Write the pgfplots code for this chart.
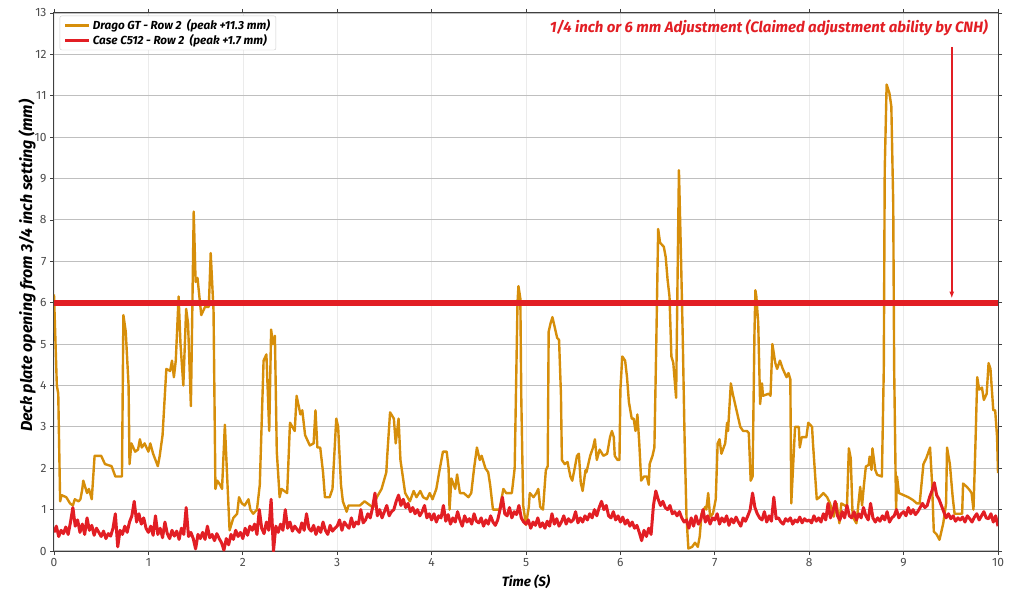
\documentclass[border=0pt]{standalone}
\usepackage{fontspec}
\setmainfont{Fira Sans}
\usepackage{pgfplots}
\pgfplotsset{compat=1.18}
\usetikzlibrary{arrows.meta}
\definecolor{drago}{RGB}{214,142,10}
\definecolor{casered}{RGB}{226,30,36}
\begin{document}
\begin{tikzpicture}
\useasboundingbox (-54pt,-51pt) rectangle (970pt,551pt);
\begin{axis}[
  scale only axis, width=944pt, height=538pt,
  xmin=0, xmax=10, ymin=0, ymax=13,
  xtick={0,1,...,10}, ytick={0,1,...,13},
  tick align=outside, major tick length=4pt,
  tick style={color=black!75, line width=0.8pt},
  axis line style={black!75, line width=1pt},
  /pgf/number format/assume math mode=true,
  ticklabel style={font=\fontsize{12}{14}\selectfont, text=black!70},
  xmajorgrids, ymajorgrids,
  x grid style={black!8, line width=0.6pt},
  y grid style={black!25, line width=1.1pt},
  xlabel={Time (S)},
  ylabel={Deck plate opening from 3/4 inch setting (mm)},
  every axis x label/.style={at={(axis description cs:0.5,0)}, yshift=-31pt, anchor=center,
    font=\fontsize{13.5}{16}\selectfont\bfseries\itshape, text=black},
  every axis y label/.style={at={(axis description cs:0,0.53)}, xshift=-27pt, rotate=90, anchor=center,
    font=\fontsize{16}{18}\selectfont\bfseries\itshape, text=black},
  legend style={at={(axis description cs:0.006,0.995)}, anchor=north west,
    draw=black!20, rounded corners=2pt, fill=white,
    font=\fontsize{11.7}{14}\selectfont\bfseries\itshape, row sep=-1pt,
    inner xsep=4pt, inner ysep=2pt},
  legend cell align=left,
  legend image code/.code={\draw[#1] (0pt,0pt) -- (24pt,0pt);},
]
\addplot[drago, line width=2.4pt, line join=round] coordinates {
(0.000,6.2) (0.030,4.0) (0.045,3.8) (0.065,1.2) (0.080,1.35) (0.130,1.3) (0.170,1.15) (0.200,1.1)
(0.220,1.25) (0.260,1.2) (0.280,1.25) (0.300,1.5) (0.310,1.7) (0.350,1.4) (0.370,1.5) (0.400,1.25)
(0.430,2.3) (0.500,2.3) (0.540,2.1) (0.610,2.05) (0.650,1.8) (0.720,1.8) (0.735,5.7) (0.760,5.3)
(0.790,4.0) (0.800,2.1) (0.820,2.6) (0.860,2.4) (0.890,2.45) (0.910,2.7) (0.930,2.5) (0.960,2.6)
(1.000,2.4) (1.020,2.6) (1.050,2.35) (1.100,2.05) (1.120,2.3) (1.150,2.8) (1.190,4.4) (1.230,4.35)
(1.250,4.6) (1.270,4.2) (1.290,4.6) (1.320,6.15) (1.340,5.0) (1.370,4.0) (1.400,5.85) (1.420,5.5)
(1.450,3.5) (1.460,5.0) (1.480,8.2) (1.500,6.5) (1.520,6.6) (1.560,5.7) (1.600,5.9) (1.640,5.9)
(1.660,7.2) (1.690,5.8) (1.710,1.5) (1.730,1.7) (1.760,1.6) (1.780,1.5) (1.810,3.05) (1.840,1.5)
(1.860,0.5) (1.900,0.8) (1.940,0.9) (1.960,1.3) (1.990,1.15) (2.020,1.1) (2.060,1.25) (2.080,1.0)
(2.110,0.9) (2.150,1.0) (2.180,1.6) (2.220,4.6) (2.250,4.75) (2.280,2.9) (2.300,5.35) (2.320,5.0)
(2.340,5.2) (2.360,2.4) (2.390,1.3) (2.410,1.5) (2.470,1.4) (2.500,3.1) (2.550,2.9) (2.570,3.75)
(2.610,3.3) (2.630,3.4) (2.660,2.8) (2.710,2.55) (2.750,2.6) (2.770,3.4) (2.790,2.5) (2.820,2.5)
(2.850,1.9) (2.870,1.3) (2.920,1.3) (2.950,1.5) (2.990,3.2) (3.010,3.0) (3.040,1.6) (3.060,1.2)
(3.100,0.95) (3.120,1.1) (3.150,1.1) (3.240,1.1) (3.290,1.2) (3.350,1.1) (3.380,1.05) (3.420,1.3)
(3.470,1.5) (3.520,1.9) (3.530,2.3) (3.560,3.35) (3.600,3.2) (3.620,2.6) (3.650,3.2) (3.670,2.2)
(3.720,1.4) (3.770,1.2) (3.810,1.45) (3.840,1.3) (3.880,1.45) (3.910,1.3) (3.950,1.25) (3.980,1.4)
(4.010,1.25) (4.050,1.5) (4.080,1.9) (4.120,2.4) (4.160,2.4) (4.180,2.0) (4.190,1.0) (4.210,1.75)
(4.250,1.5) (4.270,1.85) (4.300,1.4) (4.340,1.4) (4.390,1.3) (4.420,1.4) (4.450,2.0) (4.480,2.5)
(4.510,2.2) (4.530,2.3) (4.570,2.0) (4.600,1.9) (4.620,1.6) (4.650,1.0) (4.720,1.0) (4.760,1.5)
(4.790,1.4) (4.850,1.4) (4.880,2.0) (4.910,6.0) (4.920,6.4) (4.940,6.1) (4.950,3.7) (4.970,1.1)
(5.000,0.63) (5.030,1.07) (5.040,1.4) (5.080,1.3) (5.110,1.4) (5.130,1.5) (5.150,1.07) (5.180,1.0)
(5.210,1.95) (5.230,2.05) (5.240,5.3) (5.260,5.5) (5.280,5.65) (5.310,5.35) (5.330,5.15) (5.350,5.1)
(5.370,3.8) (5.380,2.2) (5.410,2.1) (5.440,2.15) (5.470,1.8) (5.490,1.7) (5.520,2.05) (5.540,2.3)
(5.560,2.35) (5.580,1.65) (5.600,1.45) (5.630,1.95) (5.640,1.9) (5.680,2.3) (5.710,2.5) (5.730,2.7)
(5.750,2.2) (5.780,2.45) (5.820,2.3) (5.860,2.35) (5.890,2.75) (5.910,2.9) (5.930,2.75) (5.940,2.3)
(5.970,2.2) (5.990,2.2) (6.000,3.9) (6.020,4.7) (6.050,4.6) (6.070,4.2) (6.090,3.6) (6.120,3.2)
(6.140,3.2) (6.160,2.9) (6.180,3.3) (6.200,2.6) (6.220,1.7) (6.250,1.8) (6.280,1.8) (6.300,1.6)
(6.310,2.1) (6.340,2.3) (6.360,2.5) (6.380,5.0) (6.400,7.78) (6.420,7.45) (6.460,7.35) (6.480,7.1)
(6.500,6.55) (6.520,6.15) (6.540,4.7) (6.560,4.55) (6.590,3.7) (6.610,7.45) (6.620,9.2) (6.640,7.3)
(6.660,5.2) (6.680,2.7) (6.700,0.83) (6.720,0.06) (6.760,0.1) (6.790,0.2) (6.820,0.1) (6.840,0.35)
(6.860,0.9) (6.900,1.07) (6.910,1.0) (6.930,1.4) (6.950,0.83) (6.980,0.9) (7.010,1.25) (7.030,2.6)
(7.050,2.7) (7.070,2.35) (7.110,2.6) (7.130,3.1) (7.140,2.9) (7.170,4.05) (7.190,3.8) (7.230,3.4)
(7.270,3.0) (7.300,2.9) (7.340,2.9) (7.360,2.85) (7.380,1.7) (7.400,1.8) (7.420,5.25) (7.430,6.3)
(7.440,6.15) (7.460,5.5) (7.480,3.55) (7.500,4.05) (7.510,3.75) (7.570,3.8) (7.590,3.75) (7.610,5.0)
(7.640,4.55) (7.660,4.4) (7.690,4.6) (7.720,4.4) (7.760,4.2) (7.780,4.3) (7.800,4.15) (7.810,1.15)
(7.850,3.0) (7.890,3.0) (7.900,2.5) (7.920,2.75) (7.970,2.75) (7.990,3.1) (8.030,3.0) (8.040,2.6)
(8.080,1.25) (8.110,1.3) (8.150,1.4) (8.190,1.3) (8.220,1.15) (8.260,0.83) (8.290,1.15) (8.320,0.67)
(8.340,1.15) (8.400,1.07) (8.420,2.48) (8.440,2.24) (8.460,0.83) (8.500,0.67) (8.540,1.55) (8.560,1.1)
(8.580,1.6) (8.600,2.04) (8.630,2.08) (8.640,2.28) (8.660,1.96) (8.670,2.48) (8.700,1.96) (8.720,1.84)
(8.770,1.8) (8.790,4.4) (8.800,9.2) (8.820,11.27) (8.850,11.06) (8.870,10.74) (8.890,8.4) (8.900,4.4)
(8.920,1.0) (8.930,1.8) (8.950,1.4) (9.000,1.35) (9.050,1.3) (9.100,1.23) (9.140,1.15) (9.170,1.15)
(9.210,2.1) (9.240,2.24) (9.280,2.5) (9.300,1.7) (9.320,0.47) (9.350,0.4) (9.380,0.27) (9.420,0.67)
(9.450,1.15) (9.460,2.5) (9.490,2.1) (9.520,1.3) (9.540,0.9) (9.620,0.9) (9.630,1.63) (9.670,1.55)
(9.700,1.47) (9.720,1.4) (9.740,1.0) (9.760,2.5) (9.780,4.2) (9.800,3.9) (9.830,3.95) (9.850,3.65)
(9.880,3.8) (9.900,4.54) (9.920,4.4) (9.950,3.4) (9.970,3.4) (9.990,2.76) (10.000,1.88)
};
\addlegendentry{Drago GT - Row 2\ \ (peak +11.3 mm)}
\addplot[casered, line width=3pt, line join=round] table[row sep=\\, y index=0, x expr=\coordindex*0.025] {
y\\
0.45\\0.60\\0.35\\0.50\\0.42\\0.58\\0.40\\0.70\\1.05\\0.60\\0.75\\0.45\\0.65\\0.40\\0.80\\0.50\\0.62\\0.38\\0.55\\0.45\\
0.35\\0.48\\0.30\\0.42\\0.36\\0.55\\0.90\\0.10\\0.50\\0.40\\0.60\\0.45\\0.70\\0.85\\1.20\\0.70\\0.90\\0.65\\0.80\\0.55\\
0.45\\0.60\\0.38\\0.85\\0.40\\0.55\\0.32\\0.70\\0.42\\0.30\\0.50\\0.36\\0.48\\0.28\\0.55\\0.40\\1.05\\0.35\\0.45\\0.30\\
0.05\\0.40\\0.30\\0.45\\0.28\\0.60\\0.32\\0.40\\0.25\\0.42\\0.30\\0.20\\0.02\\0.30\\0.15\\0.40\\0.28\\0.50\\0.35\\0.45\\
0.30\\0.55\\0.38\\0.60\\0.50\\0.65\\0.40\\1.00\\0.55\\0.42\\0.70\\0.50\\1.25\\0.00\\0.60\\0.45\\0.65\\0.50\\1.00\\0.55\\
0.70\\0.48\\0.60\\0.52\\0.45\\0.68\\0.50\\0.90\\0.55\\0.48\\0.62\\0.40\\0.58\\0.45\\0.70\\0.50\\0.40\\0.62\\0.48\\0.55\\
0.60\\0.75\\0.50\\0.70\\0.62\\0.55\\0.80\\0.58\\0.70\\0.65\\1.00\\0.68\\0.75\\0.90\\0.80\\1.05\\1.40\\0.85\\1.00\\0.80\\
0.95\\1.10\\0.85\\0.95\\1.00\\1.20\\1.35\\1.10\\1.25\\1.05\\1.15\\0.95\\1.05\\0.90\\1.00\\0.85\\0.95\\1.10\\0.80\\0.90\\
0.75\\0.90\\0.70\\0.85\\0.80\\1.10\\0.72\\0.88\\0.65\\0.80\\0.70\\0.95\\0.75\\0.60\\0.85\\0.70\\0.78\\0.65\\0.90\\0.72\\
0.68\\0.80\\0.60\\0.75\\0.65\\0.85\\0.70\\0.62\\0.75\\1.00\\1.30\\0.90\\0.85\\1.05\\0.80\\0.95\\0.88\\1.10\\0.80\\0.70\\
0.65\\0.75\\0.55\\0.70\\0.62\\0.80\\0.58\\0.68\\0.55\\0.72\\0.60\\0.90\\0.65\\0.78\\0.60\\0.70\\0.85\\0.65\\0.78\\0.70\\
0.75\\0.95\\0.68\\0.80\\0.70\\0.85\\0.75\\0.90\\0.80\\1.00\\0.85\\1.05\\1.20\\1.00\\1.10\\0.85\\0.80\\0.95\\0.75\\0.85\\
0.70\\0.82\\0.65\\0.75\\0.60\\0.70\\0.55\\0.62\\0.45\\0.25\\0.50\\0.35\\0.55\\0.40\\1.10\\1.45\\1.25\\1.10\\1.20\\1.05\\
1.00\\1.10\\0.90\\0.95\\0.85\\0.95\\0.80\\0.70\\0.75\\0.55\\0.80\\0.60\\0.85\\0.65\\0.75\\1.00\\0.70\\0.85\\0.65\\0.80\\
0.75\\0.90\\0.65\\0.80\\0.70\\0.85\\0.62\\0.78\\0.68\\0.82\\0.70\\0.60\\0.80\\0.72\\0.85\\1.00\\1.40\\1.05\\0.90\\0.80\\
0.75\\0.95\\0.70\\0.85\\0.72\\1.30\\0.78\\0.80\\0.70\\0.65\\0.78\\0.72\\0.80\\0.65\\0.75\\0.70\\0.82\\0.68\\0.78\\0.72\\
0.75\\0.68\\0.85\\0.72\\0.80\\0.70\\0.90\\0.75\\1.15\\0.80\\0.95\\1.20\\0.85\\0.75\\0.95\\0.80\\1.10\\0.85\\0.80\\0.95\\
0.75\\0.90\\0.80\\1.05\\0.85\\0.75\\1.15\\0.80\\0.70\\0.80\\0.72\\0.85\\0.75\\0.95\\0.70\\0.80\\0.85\\1.00\\0.80\\0.90\\
0.95\\0.85\\1.05\\0.90\\1.00\\0.88\\0.95\\1.05\\1.15\\1.05\\1.10\\1.30\\1.45\\1.65\\1.35\\1.25\\1.10\\0.95\\0.80\\0.90\\
0.78\\0.85\\0.72\\0.80\\0.75\\0.82\\0.70\\0.85\\0.78\\0.70\\0.82\\0.90\\0.75\\0.85\\0.95\\0.80\\0.78\\0.90\\0.70\\0.85\\
0.60\\
};
\addlegendentry{Case C512 - Row 2\ \ (peak +1.7 mm)}
\addplot[casered, line width=6pt, forget plot] coordinates {(0,6) (10,6)};
\draw[draw=casered, fill=casered, line width=1.6pt, -{Latex[length=7pt,width=5pt]}] (axis cs:9.51,12.18) -- (axis cs:9.51,6.1);
\node[anchor=east, text=casered, font=\fontsize{15}{17}\selectfont\bfseries\itshape] at (axis cs:9.93,12.65) {1/4 inch or 6 mm Adjustment (Claimed adjustment ability by CNH)};
\end{axis}
\end{tikzpicture}
\end{document}
